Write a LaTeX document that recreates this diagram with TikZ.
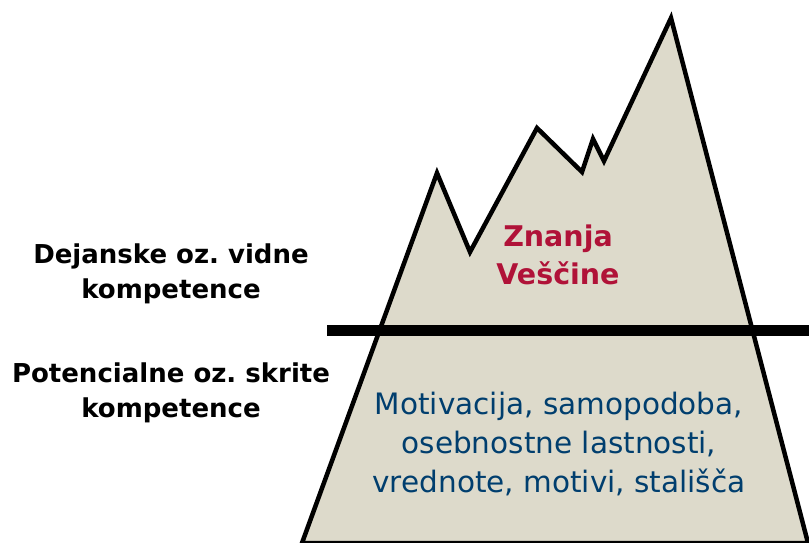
\documentclass[tikz,border=0pt]{standalone}
\usepackage{fontspec}
\setmainfont{DejaVu Sans}
\usetikzlibrary{positioning}
\definecolor{rock}{RGB}{221,218,203}
\definecolor{crimson}{RGB}{176,18,56}
\definecolor{deepblue}{RGB}{0,62,110}
\tikzset{
  mountain/.style={draw=black,fill=rock,line width=4.5pt,line join=miter},
  waterline/.style={draw=black,line width=11pt},
  sidetag/.style={align=center,font=\fontsize{26}{35}\selectfont\bfseries,text=black,inner sep=0pt},
  toptag/.style={align=center,font=\fontsize{28.5}{38.5}\selectfont\bfseries,text=crimson,inner sep=0pt},
  deeptag/.style={align=center,font=\fontsize{29.5}{39}\selectfont,text=deepblue,inner sep=0pt},
}
\begin{document}
\begin{tikzpicture}[x=1pt,y=-1pt]
  \useasboundingbox (0,0) rectangle (809,543);
  % iceberg
  \draw[mountain] (302,543) -- (437,173) -- (470,252) -- (537,128) -- (582,172)
    -- (593,139) -- (604,161) -- (671,18) -- (808,543) -- cycle;
  \draw[waterline] (327,330) -- (809,330);
  % labels
  \node[sidetag] (visible) at (171,273.5) {Dejanske oz.\ vidne\\kompetence};
  \node[sidetag] (hidden) at (171,392.5) {Potencialne oz.\ skrite\\kompetence};
  \node[toptag] (skills) at (558,255) {Znanja\\Veščine};
  \node[deeptag] (traits) at (559,444) {Motivacija, samopodoba,\\osebnostne lastnosti,\\vrednote, motivi, stališča};
\end{tikzpicture}
\end{document}
